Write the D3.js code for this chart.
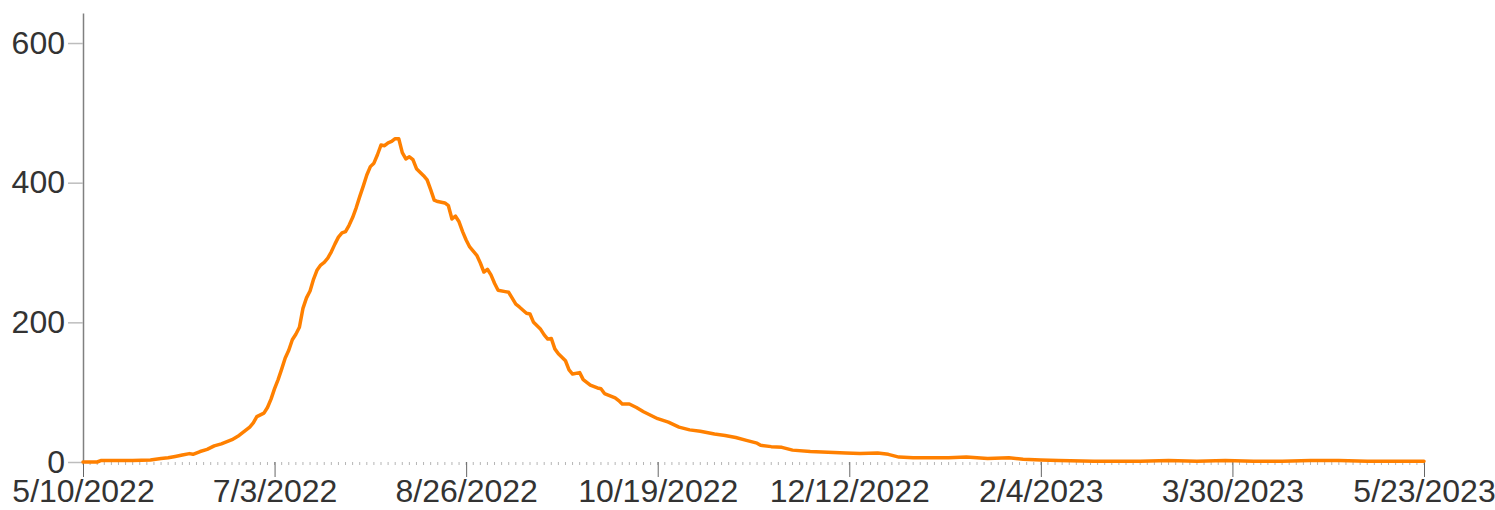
<!DOCTYPE html>
<html>
<head>
<meta charset="utf-8">
<script src="https://cdn.jsdelivr.net/npm/d3@7"></script>
<style>
  body { margin: 0; background: #fff; }
  svg { display: block; font-family: "Liberation Sans", Arial, sans-serif; }
</style>
</head>
<body>
<svg id="chart"></svg>
<script>
// daily series
const dates = [
  "5/10/2022", "5/14/2022", "5/15/2022", "5/20/2022", "5/24/2022", "5/29/2022",
  "6/1/2022", "6/3/2022", "6/5/2022", "6/7/2022", "6/9/2022", "6/10/2022",
  "6/12/2022", "6/14/2022", "6/16/2022", "6/18/2022", "6/21/2022", "6/23/2022",
  "6/24/2022", "6/26/2022", "6/27/2022", "6/28/2022", "6/30/2022",
  "7/1/2022", "7/2/2022", "7/3/2022", "7/4/2022", "7/5/2022", "7/6/2022",
  "7/7/2022", "7/8/2022", "7/9/2022", "7/10/2022", "7/11/2022", "7/12/2022",
  "7/13/2022", "7/14/2022", "7/15/2022", "7/16/2022", "7/17/2022", "7/18/2022",
  "7/19/2022", "7/20/2022", "7/21/2022", "7/22/2022", "7/23/2022", "7/24/2022",
  "7/25/2022", "7/26/2022", "7/27/2022", "7/28/2022", "7/29/2022", "7/30/2022",
  "7/31/2022", "8/1/2022", "8/2/2022", "8/3/2022", "8/4/2022", "8/5/2022",
  "8/6/2022", "8/7/2022", "8/8/2022", "8/9/2022", "8/10/2022", "8/11/2022",
  "8/12/2022", "8/13/2022", "8/14/2022", "8/15/2022", "8/16/2022", "8/17/2022",
  "8/18/2022", "8/19/2022", "8/20/2022", "8/21/2022", "8/22/2022", "8/23/2022",
  "8/24/2022", "8/25/2022", "8/26/2022", "8/27/2022", "8/28/2022", "8/29/2022",
  "8/30/2022", "8/31/2022", "9/1/2022", "9/2/2022", "9/3/2022", "9/4/2022",
  "9/6/2022", "9/7/2022", "9/9/2022", "9/10/2022", "9/12/2022", "9/13/2022",
  "9/14/2022", "9/16/2022", "9/17/2022", "9/18/2022", "9/19/2022", "9/20/2022",
  "9/21/2022", "9/23/2022", "9/24/2022", "9/25/2022", "9/27/2022", "9/28/2022",
  "9/30/2022", "10/2/2022", "10/3/2022", "10/4/2022", "10/7/2022", "10/8/2022",
  "10/9/2022", "10/11/2022", "10/13/2022", "10/15/2022", "10/17/2022", "10/19/2022",
  "10/22/2022", "10/25/2022", "10/28/2022", "10/31/2022", "11/4/2022", "11/7/2022",
  "11/10/2022", "11/13/2022", "11/16/2022", "11/17/2022", "11/20/2022", "11/23/2022",
  "11/26/2022", "12/1/2022", "12/6/2022", "12/11/2022", "12/15/2022", "12/20/2022",
  "12/23/2022", "12/26/2022", "12/30/2022", "1/3/2023", "1/9/2023", "1/14/2023",
  "1/17/2023", "1/20/2023", "1/26/2023", "1/30/2023", "2/4/2023", "2/9/2023",
  "2/19/2023", "3/4/2023", "3/12/2023", "3/20/2023", "3/28/2023", "4/5/2023",
  "4/13/2023", "4/21/2023", "4/29/2023", "5/7/2023", "5/15/2023", "5/23/2023"
];
const values = [
  0, 0, 2, 2, 2, 3,
  5, 6, 8, 10, 12, 11,
  15, 18, 23, 26, 32, 38,
  42, 50, 56, 65, 70,
  78, 90, 105, 118, 133, 149,
  160, 175, 183, 193, 220, 235,
  245, 262, 275, 282, 286, 292,
  301, 312, 322, 328, 330, 339,
  350, 364, 380, 395, 411, 423,
  428, 440, 454, 453, 457, 459,
  463, 463, 443, 434, 437, 433,
  420, 415, 410, 404, 390, 375,
  373, 372, 371, 367, 348, 352,
  344, 330, 318, 308, 302, 296,
  285, 272, 276, 268, 256, 246,
  244, 243, 226, 222, 213, 212,
  200, 190, 182, 176, 177, 162,
  155, 145, 132, 126, 128, 118,
  110, 106, 105, 98, 92, 88,
  83, 83, 78, 72, 67, 62,
  57, 50, 46, 44, 40, 38,
  35, 31, 27, 24, 22, 21,
  17, 15, 14, 13, 12, 13,
  11, 7, 6, 6, 6, 7,
  6, 5, 6, 4, 3, 2,
  1, 1, 2, 1, 2, 1,
  1, 2, 2, 1, 1, 1
];
const xTickLabels = ["5/10/2022", "7/3/2022", "8/26/2022", "10/19/2022", "12/12/2022", "2/4/2023", "3/30/2023", "5/23/2023"];
const yTicks = [0, 200, 400, 600];

const width = 1495;
const height = 510;
const margin = { t: 13, r: 71, b: 48, l: 83 };

const parse = d3.utcParse("%m/%d/%Y");
const data = dates.map((d, i) => ({ date: parse(d), value: values[i] }));
const xTicks = xTickLabels.map(parse);

const svg = d3.select("#chart").attr("width", width).attr("height", height);

const x = d3
  .scaleUtc()
  .domain([parse("5/10/2022"), parse("5/23/2023")])
  .range([margin.l, width - margin.r]);

const y = d3
  .scaleLinear()
  .domain([0, 643])
  .range([height - margin.b, margin.t]);

// small day ticks along the bottom
const minorTicks = d3.range(0, 379, 2).map((d) => d3.utcDay.offset(x.domain()[0], d));
svg
  .append("g")
  .attr("transform", `translate(0,${y(0)})`)
  .selectAll("line")
  .data(minorTicks)
  .join("line")
  .attr("x1", (d) => x(d))
  .attr("x2", (d) => x(d))
  .attr("y1", 0)
  .attr("y2", 3)
  .attr("stroke", "#b5b5b5")
  .attr("stroke-width", 1);

const fmt = d3.utcFormat("%-m/%-d/%Y");
const xAxis = svg
  .append("g")
  .attr("transform", `translate(0,${y(0)})`)
  .call(
    d3.axisBottom(x)
      .tickValues(xTicks)
      .tickFormat(fmt)
      .tickSize(15)
      .tickPadding(2)
  );
xAxis.select(".domain").remove();
xAxis.selectAll(".tick line").attr("stroke", "#666");
xAxis
  .selectAll(".tick text")
  .attr("fill", "#333")
  .attr("font-size", 32)
  .attr("font-family", "Liberation Sans, Arial, sans-serif");

const yAxis = svg
  .append("g")
  .attr("transform", `translate(${margin.l},0)`)
  .call(d3.axisLeft(y).tickValues(yTicks).tickSize(15).tickPadding(3).tickSizeOuter(0));
yAxis.select(".domain").attr("stroke", "#808080").attr("stroke-width", 1.5);
yAxis.selectAll(".tick line").attr("stroke", "#bdbdbd").attr("stroke-width", 1.5);
yAxis
  .selectAll(".tick text")
  .attr("fill", "#333")
  .attr("font-size", 32)
  .attr("font-family", "Liberation Sans, Arial, sans-serif");

svg
  .append("path")
  .datum(data)
  .attr("fill", "none")
  .attr("stroke", "#ff8000")
  .attr("stroke-width", 3.5)
  .attr("stroke-linejoin", "round")
  .attr("stroke-linecap", "round")
  .attr(
    "d",
    d3.line()
      .x((d) => x(d.date))
      .y((d) => y(d.value))
  );
</script>
</body>
</html>
